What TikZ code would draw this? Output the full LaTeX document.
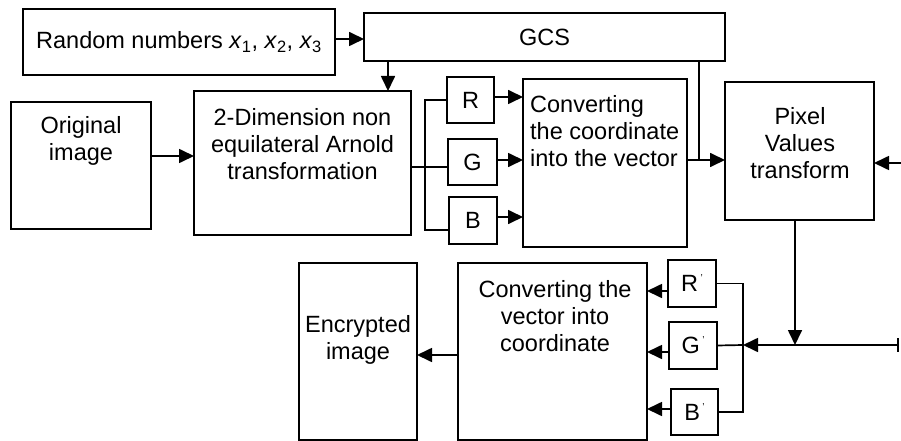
\documentclass[tikz,border=0pt]{standalone}
\usepackage{fontspec}
\setmainfont{Liberation Sans}
\usetikzlibrary{arrows.meta}
\newcommand{\pr}{\kern2.5pt\raisebox{10pt}{\fontsize{10}{10}\selectfont '}}
\begin{document}
\begin{tikzpicture}[x=1pt,y=-1pt,
  lw/.style={line width=1.7pt},
  blk/.style={draw, lw, inner sep=0pt, outer sep=0pt, font=\fontsize{23.5}{27}\selectfont},
  txt/.style={inner sep=0pt, align=center, font=\fontsize{23.5}{27}\selectfont},
  arr/.style={lw, -{Triangle[length=15pt,width=14pt]}},
  ln/.style={lw}]
\useasboundingbox (0,0) rectangle (901,441);

% boxes
\node[blk, minimum width=312pt, minimum height=66pt] (rand) at (179,42)
  {Random numbers \textit{x}\textsubscript{1}, \textit{x}\textsubscript{2}, \textit{x}\textsubscript{3}};
\node[blk, minimum width=361pt, minimum height=48pt] (gcs) at (544.5,37) {GCS};
\node[blk, minimum width=140pt, minimum height=127pt] (orig) at (81,165.5) {};
\node[blk, minimum width=217pt, minimum height=144pt] (arnold) at (302.5,163) {};
\node[blk, minimum width=47pt, minimum height=46pt] (R) at (470.5,100) {R};
\node[blk, minimum width=49pt, minimum height=46pt] (G) at (472.5,162) {G};
\node[blk, minimum width=48pt, minimum height=47pt] (B) at (473,220.5) {B};
\node[blk, minimum width=164pt, minimum height=168pt] (conv1) at (605,163) {};
\node[blk, minimum width=149pt, minimum height=138pt] (pixel) at (799.5,151) {};
\node[blk, minimum width=189pt, minimum height=177pt] (conv2) at (552.5,351.5) {};
\node[blk, minimum width=118pt, minimum height=177pt] (enc) at (358,351.5) {};
\node[blk, minimum width=48pt, minimum height=47pt] (Rp) at (692,283.5) {R\pr};
\node[blk, minimum width=48pt, minimum height=47pt] (Gp) at (693,345.5) {G\pr};
\node[blk, minimum width=47pt, minimum height=46pt] (Bp) at (694.5,412) {B\pr};

% texts inside boxes
\node[txt] (origt) at (81,141) {Original\\image};
\node[txt] (arnoldt) at (302.5,144) {2-Dimension non\\equilateral Arnold\\transformation};
\node[txt, align=left, anchor=west] (conv1t) at (530,131) {Converting\\the coordinate\\into the vector};
\node[txt] (pixelt) at (800,143) {Pixel\\Values\\transform};
\node[txt] (conv2t) at (555,316) {Converting the\\vector into\\coordinate};
\node[txt] (enct) at (358,340) {Encrypted\\image};

% junction coordinates
\coordinate (jR) at (425,100);
\coordinate (jG) at (425,167);
\coordinate (jB) at (425,230);
\coordinate (inR) at (901,163);
\coordinate (j3) at (743,345);
\coordinate (outR) at (899,345);

% connectors
\draw[arr] ([yshift=3pt]rand.east) -- ([yshift=3pt]rand.east -| gcs.west);
\draw[arr] ([xshift=24pt]gcs.south west) -- ([xshift=24pt]gcs.south west |- arnold.north);
\draw[arr] ([yshift=9.5pt]orig.east) -- ([yshift=9.5pt]orig.east -| arnold.west);

\draw[ln] (jG -| arnold.east) -- (jG -| G.west);
\draw[ln] (jR -| R.west) -- (jR) -- (jB) -- (jB -| B.west);

\draw[arr] ([yshift=3pt]R.east) -- ([yshift=3pt]R.east -| conv1.west);
\draw[arr] ([yshift=2pt]G.east) -- ([yshift=2pt]G.east -| conv1.west);
\draw[arr] ([yshift=3.5pt]B.east) -- ([yshift=3.5pt]B.east -| conv1.west);

\draw[arr] ([yshift=3pt]conv1.east) -- ([yshift=3pt]conv1.east -| pixel.west);
\draw[ln] ([xshift=-26pt]gcs.south east) -- ([xshift=-26pt]gcs.south east |- 0,160);

\draw[arr] (inR) -- (inR -| pixel.east);
\draw[arr] ([xshift=-4.5pt]pixel.south) -- ([xshift=-4.5pt]pixel.south |- j3);
\draw[lw, {Bar[width=14pt]}-{Triangle[length=15pt,width=14pt]}] (outR) -- (j3);

\draw[ln] (Rp.east) -- (Rp.east -| j3) -- (Bp.east -| j3) -- (Bp.east);
\draw[ln] (Gp.east) -- (j3);

\draw[arr] ([yshift=-7.5pt]Rp.west) -- ([yshift=-7.5pt]Rp.west -| conv2.east);
\draw[arr] ([yshift=-6.5pt]Gp.west) -- ([yshift=-6.5pt]Gp.west -| conv2.east);
\draw[arr] ([yshift=3pt]Bp.west) -- ([yshift=3pt]Bp.west -| conv2.east);

\draw[arr] ([yshift=-3.5pt]conv2.west) -- ([yshift=-3.5pt]conv2.west -| enc.east);
\end{tikzpicture}
\end{document}
